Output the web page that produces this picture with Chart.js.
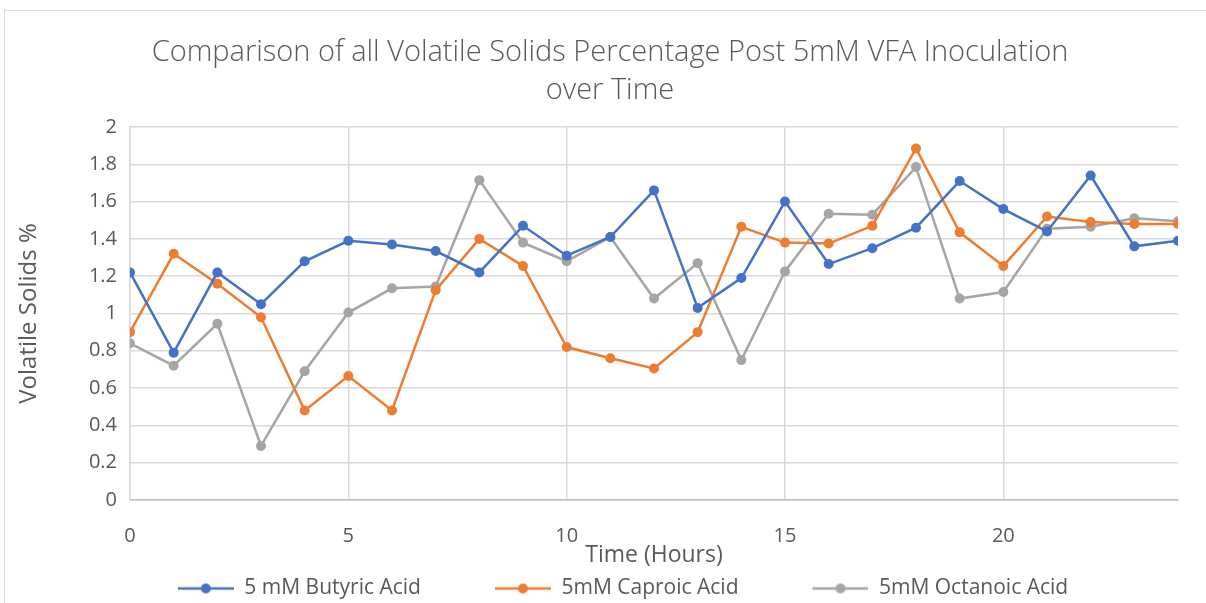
<!DOCTYPE html>
<html>
<head>
<meta charset="utf-8">
<script src="https://cdn.jsdelivr.net/npm/chart.js@4/dist/chart.umd.min.js"></script>
<style>
  html, body { margin: 0; padding: 0; background: #fff; }
  #wrap { position: relative; width: 1206px; height: 603px; overflow: hidden; }
  #frame { position: absolute; left: 4px; top: 10px; width: 1220px; height: 620px;
           border-top: 1px solid #d9d9d9; border-left: 1px solid #d9d9d9; pointer-events: none; }
  canvas { position: absolute; left: 0; top: 0; }
</style>
</head>
<body>
<div id="wrap">
  <canvas id="c" width="1206" height="603"></canvas>
  <div id="frame"></div>
</div>
<script>
// Sampling times (hours)
const hours = [0,1,2,3,4,5,6,7,8,9,10,11,12,13,14,15,16,17,18,19,20,21,22,23,24];

// Volatile solids (%) per sampling time
const butyric  = [1.22,0.79,1.22,1.05,1.28,1.39,1.37,1.335,1.22,1.47,1.31,1.41,1.66,1.03,1.19,1.60,1.265,1.35,1.46,1.71,1.56,1.44,1.74,1.36,1.39];
const caproic  = [0.90,1.32,1.16,0.98,0.48,0.665,0.48,1.125,1.40,1.255,0.82,0.76,0.705,0.90,1.465,1.38,1.375,1.47,1.885,1.435,1.255,1.52,1.49,1.48,1.48];
const octanoic = [0.84,0.72,0.945,0.29,0.69,1.005,1.135,1.145,1.715,1.38,1.28,1.41,1.08,1.27,0.75,1.225,1.535,1.53,1.785,1.08,1.115,1.455,1.465,1.51,1.495];

const seriesNames  = ['5 mM Butyric Acid', '5mM Caproic Acid', '5mM Octanoic Acid'];
const seriesColors = ['#4472C4', '#ED7D31', '#A5A5A5'];
const seriesValues = [butyric, caproic, octanoic];

const titleLines = ['Comparison of all Volatile Solids Percentage Post 5mM VFA Inoculation', 'over Time'];
const xTitle = 'Time (Hours)';
const yTitle = 'Volatile Solids %';

const FONT = '"Open Sans", sans-serif';
const TEXT = '#595959';
const GRID = '#d9d9d9';

// Legend swatch: transparent lead-in (item spacing), then a short line with a dot
const SW_LEAD = 68, SW_LINE = 56, SW_H = 12;
function swatch(color) {
  const cv = document.createElement('canvas');
  cv.width = SW_LEAD + SW_LINE; cv.height = SW_H;
  const g = cv.getContext('2d');
  g.strokeStyle = color; g.lineWidth = 2.5;
  g.beginPath(); g.moveTo(SW_LEAD, SW_H / 2); g.lineTo(SW_LEAD + SW_LINE, SW_H / 2); g.stroke();
  g.fillStyle = color;
  g.beginPath(); g.arc(SW_LEAD + SW_LINE / 2, SW_H / 2, 5, 0, Math.PI * 2); g.fill();
  return cv;
}

const datasets = seriesNames.map((name, i) => ({
  label: name,
  data: hours.map((h, j) => ({ x: h, y: seriesValues[i][j] })),
  borderColor: seriesColors[i],
  backgroundColor: seriesColors[i],
  borderWidth: 2.5,
  pointRadius: 5,
  pointHoverRadius: 5,
  pointBorderWidth: 0,
  pointStyle: 'circle',
  tension: 0,
  legendSwatch: swatch(seriesColors[i])
}));

const PLOT_BOTTOM = 500;
const PAD_BOTTOM = -6;
const TITLE_SHIFT = 21;

// Centre the title over the whole frame rather than the padded layout width
const titleShift = {
  id: 'titleShift',
  afterLayout(chart) {
    const t = chart.titleBlock;
    if (t) { t.left += TITLE_SHIFT; t.right += TITLE_SHIFT; }
  }
};

new Chart(document.getElementById('c'), {
  type: 'line',
  data: { datasets },
  plugins: [titleShift],
  options: {
    responsive: false,
    animation: false,
    layout: { padding: { left: 0, right: 28, top: 0, bottom: PAD_BOTTOM } },
    plugins: {
      title: {
        display: true,
        text: titleLines,
        color: TEXT,
        font: { family: FONT, size: 29, weight: '300', lineHeight: 1.31 },
        padding: { top: 34, bottom: 17 }
      },
      legend: {
        position: 'bottom',
        labels: {
          color: TEXT,
          font: { family: FONT, size: 21 },
          usePointStyle: true,
          pointStyleWidth: SW_LEAD + SW_LINE,
          boxHeight: SW_H,
          padding: 6,
          generateLabels(chart) {
            return chart.data.datasets.map((ds, i) => ({
              text: ds.label,
              fillStyle: ds.borderColor,
              strokeStyle: ds.borderColor,
              fontColor: TEXT,
              pointStyle: ds.legendSwatch,
              lineWidth: 0,
              hidden: false,
              datasetIndex: i
            }));
          }
        }
      },
      tooltip: { enabled: false }
    },
    scales: {
      x: {
        type: 'linear',
        min: 0,
        max: 24,
        afterFit(scale) {
          scale.height = scale.chart.height - PAD_BOTTOM - PLOT_BOTTOM - scale.chart.legend.height;
        },
        ticks: { stepSize: 5, includeBounds: false, color: TEXT, font: { family: FONT, size: 20 }, padding: 24 },
        grid: { color: GRID, lineWidth: 1.5, drawTicks: false },
        border: { color: '#bfbfbf', width: 1.5 },
        title: { display: true, text: xTitle, color: TEXT, font: { family: FONT, size: 23 }, padding: { top: 0, bottom: 3 } }
      },
      y: {
        min: 0,
        max: 2,
        afterFit(scale) { scale.width = 130; },
        ticks: {
          stepSize: 0.2, color: TEXT, font: { family: FONT, size: 20 }, padding: 13,
          callback: (v) => String(Math.round(v * 10) / 10)
        },
        grid: { color: GRID, lineWidth: 1.5, drawTicks: false },
        border: { color: GRID, width: 1.5 },
        title: { display: true, text: yTitle, color: TEXT, font: { family: FONT, size: 24 }, padding: { top: 15, bottom: 0 } }
      }
    }
  }
});
</script>
</body>
</html>
